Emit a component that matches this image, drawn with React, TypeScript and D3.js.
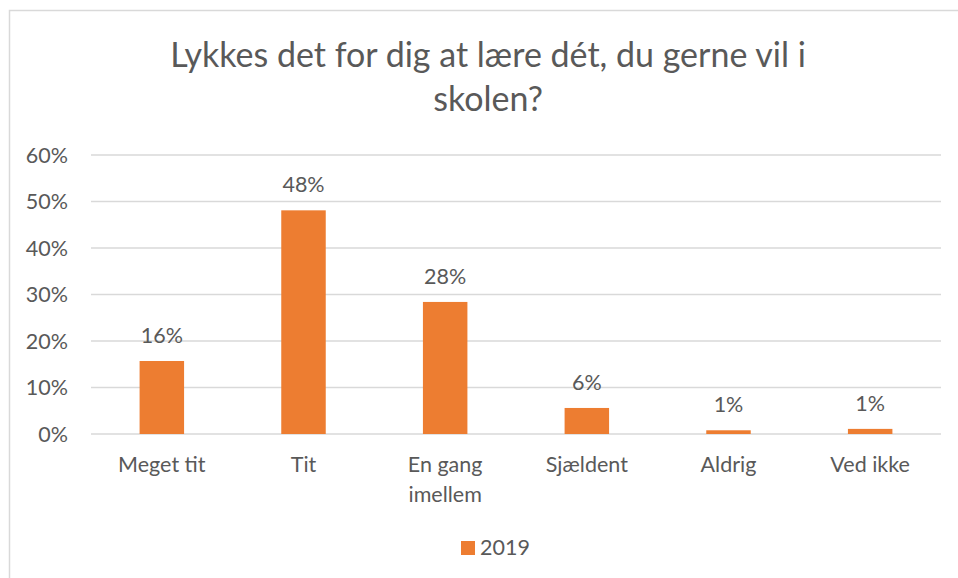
import * as d3 from 'd3';

const categories = ['Meget tit', 'Tit', 'En gang imellem', 'Sjældent', 'Aldrig', 'Ved ikke'];
const values2019 = [0.157, 0.481, 0.284, 0.056, 0.008, 0.011];
const yTicks = [0, 0.1, 0.2, 0.3, 0.4, 0.5, 0.6];
const titleLines = ['Lykkes det for dig at lære dét, du gerne vil i', 'skolen?'];
const seriesName = '2019';

// category labels that Excel wraps onto two lines
const wrapped: Record<string, string[]> = {
  'En gang imellem': ['En gang', 'imellem'],
};

const W = 958;
const H = 578;
const TEXT = '#595959';
const ORANGE = '#ED7D31';
const GRID = '#D9D9D9';
const FONT = 'Lato, "Open Sans", sans-serif';
const FS = 21.5;

const App = () => {
  const x = d3
    .scaleBand()
    .domain(categories)
    .range([91, 941])
    .paddingInner(0.686)
    .paddingOuter(0.343);

  const y = d3.scaleLinear().domain([0, 0.6]).range([434, 155]);
  const pct = d3.format('.0%');

  return (
    <svg
      width={W}
      height={H}
      style={{ position: 'absolute', left: 0, top: 0, background: '#fff' }}
      fontFamily={FONT}
    >
      <rect x={9.5} y={10.5} width={W + 20} height={H + 20} fill="#fff" stroke={GRID} strokeWidth={1.5} />

      {titleLines.map((t, i) => (
        <text key={i} x={488} y={67 + i * 44} textAnchor="middle" fontSize={34} fill={TEXT}>
          {t}
        </text>
      ))}

      {yTicks.map((t) => (
        <g key={t}>
          <line x1={91} x2={941} y1={y(t)} y2={y(t)} stroke={GRID} strokeWidth={1.3} />
          <text x={68} y={y(t)} dy="0.35em" textAnchor="end" fontSize={FS} fill={TEXT}>
            {pct(t)}
          </text>
        </g>
      ))}

      {categories.map((c, i) => {
        const bx = x(c) as number;
        const cx = bx + x.bandwidth() / 2;
        const lines = wrapped[c] || [c];
        return (
          <g key={c}>
            <rect x={bx} y={y(values2019[i])} width={x.bandwidth()} height={y(0) - y(values2019[i])} fill={ORANGE} />
            <text x={cx} y={y(values2019[i]) - 18} textAnchor="middle" fontSize={FS} fill={TEXT}>
              {pct(values2019[i])}
            </text>
            {lines.map((l, j) => (
              <text key={j} x={cx} y={472 + j * 30} textAnchor="middle" fontSize={FS} fill={TEXT}>
                {l}
              </text>
            ))}
          </g>
        );
      })}

      <rect x={461} y={541} width={14} height={14} fill={ORANGE} />
      <text x={480} y={555} fontSize={FS} fill={TEXT}>
        {seriesName}
      </text>
    </svg>
  );
};

export default App;
